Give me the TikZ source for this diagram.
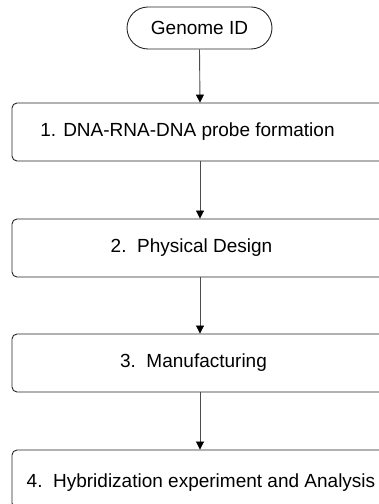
\documentclass[tikz,border=0pt]{standalone}
\usepackage{fontspec}
\setmainfont{Liberation Sans}
\usetikzlibrary{arrows.meta,shapes.misc}
\begin{document}
\begin{tikzpicture}[x=1pt,y=1pt,
  every node/.style={font=\fontsize{19}{22}\selectfont, inner sep=0pt},
  terminal/.style={draw=black!85, line width=0.9pt, rounded rectangle,
    minimum width=145pt, minimum height=42pt},
  stepbox/.style={draw=black!85, line width=0.9pt, rounded corners=5pt,
    minimum width=376pt, minimum height=58pt},
  flow/.style={draw=black!70, line width=0.9pt,
    -{Triangle[length=8pt,width=8pt,color=black]}}
]
\useasboundingbox (0,0) rectangle (379,504);
\clip (0,0) rectangle (379,504);

% start terminal
\node[terminal] (start) at (199.5,476) {Genome ID};

% process steps (boxes run past the right edge of the page)
\node[stepbox] (s1) at (200,372) {};
\node (t1) at (187.5,372) {1. DNA-RNA-DNA probe formation};

\node[stepbox] (s2) at (200,256) {};
\node (t2) at (191.5,256) {2.\ \ Physical Design};

\node[stepbox] (s3) at (200,141) {};
\node (t3) at (193.5,141) {3.\ \ Manufacturing};

\node[stepbox] (s4) at (200,25) {};
\node (t4) at (201,21) {4.\ \ Hybridization experiment and Analysis};

% connectors
\draw[flow] (start.south) -- (s1.north);
\draw[flow] (s1.south) -- (s2.north);
\draw[flow] (s2.south) -- (s3.north);
\draw[flow] (s3.south) -- (s4.north);
\end{tikzpicture}
\end{document}
